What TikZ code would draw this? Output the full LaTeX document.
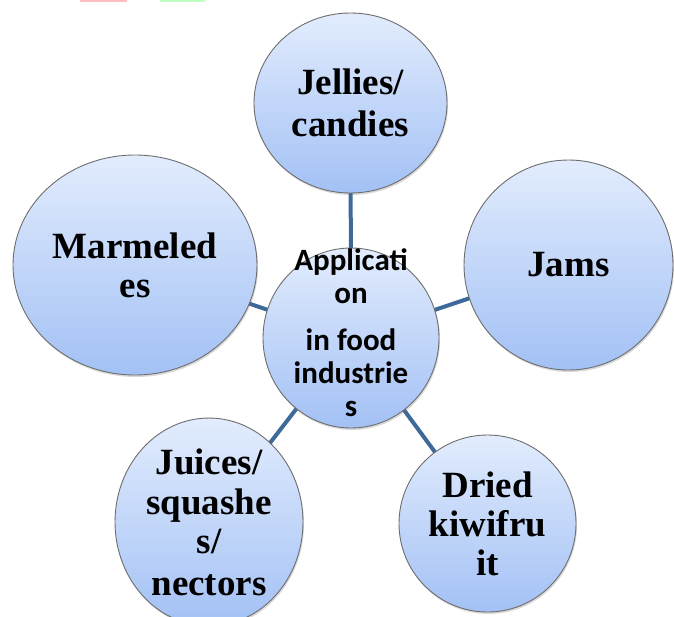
\documentclass[tikz,border=0pt]{standalone}
\usepackage{fontspec}
\setmainfont{Liberation Serif}
\newfontfamily\bubblesans{Carlito}
\usetikzlibrary{shapes.geometric,shadows,backgrounds}

\definecolor{bubbletop}{HTML}{E2ECFD}
\definecolor{bubblebot}{HTML}{A3C1F5}
\definecolor{bubbleline}{HTML}{6E6E6E}
\definecolor{spoke}{HTML}{3E6A99}

\tikzset{
  bubble/.style={ellipse, draw=bubbleline, line width=0.9pt,
    top color=bubbletop, bottom color=bubblebot,
    drop shadow={shadow xshift=1pt, shadow yshift=-2pt, opacity=0.25, fill=black!60},
    inner sep=0pt, align=center, text=black},
  outerlabel/.style={font=\fontsize{37}{39}\selectfont\bfseries},
  hublabel/.style={font=\bubblesans\fontsize{31}{33}\selectfont\bfseries},
  spokeline/.style={draw=spoke, line width=4pt}
}

\begin{document}
\begin{tikzpicture}[x=1pt,y=1pt]
  \useasboundingbox (0,0) rectangle (674,-616);
  \clip (0,0) rectangle (674,-616);

  % faint colour strips along the top edge
  \fill[red!25] (80,0) rectangle (127,-1.5);
  \fill[green!25] (160,0) rectangle (205,-1.5);

  % hub
  \node[bubble, minimum width=176pt, minimum height=180pt] (hub) at (351,-338) {};
  \node[hublabel, align=center, anchor=center] (hubtext) at (351,-333)
    {Applicati\\on\\[14pt]in food\\industrie\\s};

  % surrounding bubbles
  \node[bubble, outerlabel, minimum width=193pt, minimum height=180pt] (jellies) at (350.5,-103)
    {Jellies/\\[3pt]candies};
  \node[bubble, outerlabel, minimum width=244pt, minimum height=220pt] (marm) at (135,-265)
    {Marmeled\\es};
  \node[bubble, outerlabel, minimum width=209pt, minimum height=210pt] (jams) at (568.5,-265)
    {Jams};
  \node[bubble, outerlabel, minimum width=188pt, minimum height=180pt] (juices) at (209,-522)
    {Juices/\\[1pt]squashe\\s/\\[3pt]nectors};
  \node[bubble, outerlabel, minimum width=177pt, minimum height=177pt] (dried) at (487.5,-523.5)
    {Dried\\kiwifru\\it};

  % spokes behind the bubbles
  \begin{scope}[on background layer]
    \foreach \leaf in {jellies,marm,jams,juices,dried}
      \draw[spokeline] (hub.center) -- (\leaf.center);
  \end{scope}
\end{tikzpicture}
\end{document}
